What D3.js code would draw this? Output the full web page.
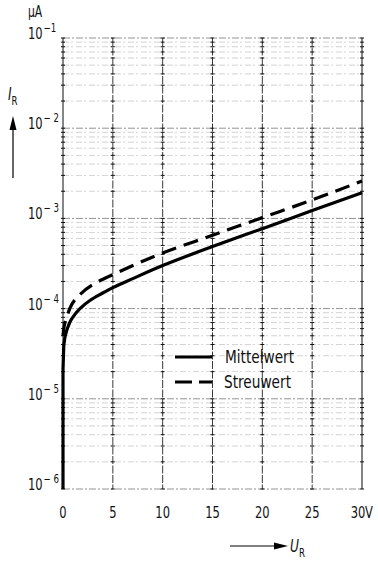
<!DOCTYPE html>
<html><head><meta charset="utf-8">
<script src="https://cdn.jsdelivr.net/npm/d3@7"></script>
<style>
body{margin:0;background:#fff;}
text{font-family:"DejaVu Sans Condensed","DejaVu Sans",sans-serif;fill:#111;}
</style></head>
<body><svg id="c" width="378" height="561"></svg>
<script>
// Data
const xTicks = [0, 5, 10, 15, 20, 25, 30];
const xTickLabels = ["0", "5", "10", "15", "20", "25", "30"];
const yDecades = [1e-6, 1e-5, 1e-4, 1e-3, 1e-2, 1e-1];
const yExponents = ["6", "5", "4", "3", "2", "1"];
const mittelU = [0, 0, 0.03, 0.1, 0.37, 0.87, 1.7, 2.7, 3.9, 5, 7, 10, 15, 20, 25, 30];
const mittelI = [1e-6, 2e-5, 2.65e-5, 4.1e-5, 5.7e-5, 7.7e-5, 1.0e-4, 1.23e-4, 1.47e-4, 1.71e-4, 2.15e-4, 3.0e-4, 4.87e-4, 7.7e-4, 1.22e-3, 1.93e-3];
const streuU = [0, 0.13, 0.37, 1.2, 3.3, 5, 7.2, 9.6, 15, 20, 25, 30];
const streuI = [5e-5, 6.5e-5, 8e-5, 1.25e-4, 1.93e-4, 2.38e-4, 3.07e-4, 3.98e-4, 6.5e-4, 1.02e-3, 1.6e-3, 2.6e-3];
const legendLabels = ["Mittelwert", "Streuwert"];

const svg = d3.select("#c");
const L = 63, R = 362, T = 38, B = 489;
const x = d3.scaleLinear().domain([0, 30]).range([L, R]);
const y = d3.scaleLog().domain([1e-6, 1e-1]).range([B, T]);
const SX = 0.8;

function narrow(px, py, size, anchor) {
  const gg = svg.append("g").attr("transform", `translate(${px},${py}) scale(${SX},1)`);
  return gg.append("text").attr("font-size", size).attr("text-anchor", anchor || "start");
}

// minor horizontal grid
const minors = [];
yDecades.slice(0, -1).forEach(d => { for (let k = 2; k <= 9; k++) minors.push(d * k); });
const g = svg.append("g");
g.selectAll(".hm").data(minors).join("line")
  .attr("x1", L).attr("x2", R).attr("y1", d => y(d)).attr("y2", d => y(d))
  .attr("stroke", "#aaa").attr("stroke-width", 0.7).attr("stroke-dasharray", "6,2,2,3").attr("opacity", 0.75);
g.selectAll(".hd").data(yDecades).join("line")
  .attr("x1", L).attr("x2", R).attr("y1", d => y(d)).attr("y2", d => y(d))
  .attr("stroke", "#777").attr("stroke-width", 0.8).attr("stroke-dasharray", "7,2,2,2");
// vertical grid
g.selectAll(".v").data(xTicks).join("line")
  .attr("x1", d => x(d)).attr("x2", d => x(d)).attr("y1", T).attr("y2", B)
  .attr("stroke", "#222").attr("stroke-width", d => (d === 0 || d === 30) ? 1.1 : 0.9)
  .attr("stroke-dasharray", d => (d === 0 || d === 30) ? null : "8,1.5");
// tick marks on vertical lines
xTicks.forEach(v => {
  g.selectAll(null).data(minors.concat(yDecades)).join("line")
    .attr("x1", x(v) - 2).attr("x2", x(v) + 2).attr("y1", d => y(d)).attr("y2", d => y(d))
    .attr("stroke", "#111").attr("stroke-width", 1);
});

// curves
const line = d3.line().x(d => x(d[0])).y(d => y(d[1])).curve(d3.curveMonotoneY);
svg.append("path").datum(mittelU.map((u, i) => [u, mittelI[i]]))
  .attr("d", line).attr("fill", "none").attr("stroke", "#000").attr("stroke-width", 3.2);
svg.append("path").datum(streuU.map((u, i) => [u, streuI[i]]))
  .attr("d", line).attr("fill", "none").attr("stroke", "#000").attr("stroke-width", 3.2)
  .attr("stroke-dasharray", "15,8");

// legend
const lg = svg.append("g");
lg.append("line").attr("x1", 175).attr("x2", 212).attr("y1", 357).attr("y2", 357).attr("stroke", "#000").attr("stroke-width", 3.2);
lg.append("line").attr("x1", 175).attr("x2", 212).attr("y1", 382).attr("y2", 382).attr("stroke", "#000").attr("stroke-width", 3.2).attr("stroke-dasharray", "17,7");
lg.append("text").attr("x", 225).attr("y", 363).attr("font-size", 17).attr("textLength", 69).attr("lengthAdjust", "spacingAndGlyphs").text(legendLabels[0]);
lg.append("text").attr("x", 224).attr("y", 388).attr("font-size", 17).attr("textLength", 67).attr("lengthAdjust", "spacingAndGlyphs").text(legendLabels[1]);

// x tick labels
xTicks.forEach((d, i) => {
  narrow(d === 30 ? x(d) - 4 : x(d), 518, 16, "middle").text(xTickLabels[i]);
});
narrow(365, 518, 16).text("V");

// y tick labels
yDecades.forEach((d, i) => {
  const t = narrow(28, y(d) + 1, 16);
  t.append("tspan").text("10");
  t.append("tspan").attr("dx", 1).attr("dy", -7).attr("font-size", 12).text("−" + (yExponents[i] === "1" ? "" : " ") + yExponents[i]);
});
narrow(28, 17, 15).text("μA");

// y axis label + arrow
const yl = narrow(8, 100, 17).attr("font-style", "italic");
yl.append("tspan").text("I");
yl.append("tspan").attr("dy", 5).attr("font-size", 12).attr("font-style", "normal").text("R");
svg.append("line").attr("x1", 13).attr("x2", 13).attr("y1", 128).attr("y2", 178).attr("stroke", "#000").attr("stroke-width", 1.2);
svg.append("path").attr("d", "M13,116 L9.5,130 L16.5,130 Z").attr("fill", "#000");

// x axis label + arrow
svg.append("line").attr("x1", 230).attr("x2", 278).attr("y1", 546).attr("y2", 546).attr("stroke", "#000").attr("stroke-width", 1.2);
svg.append("path").attr("d", "M288,546 L274,542.5 L274,549.5 Z").attr("fill", "#000");
const xl = narrow(290, 552, 17).attr("font-style", "italic");
xl.append("tspan").text("U");
xl.append("tspan").attr("dy", 5).attr("font-size", 12).attr("font-style", "normal").text("R");
</script></body></html>
